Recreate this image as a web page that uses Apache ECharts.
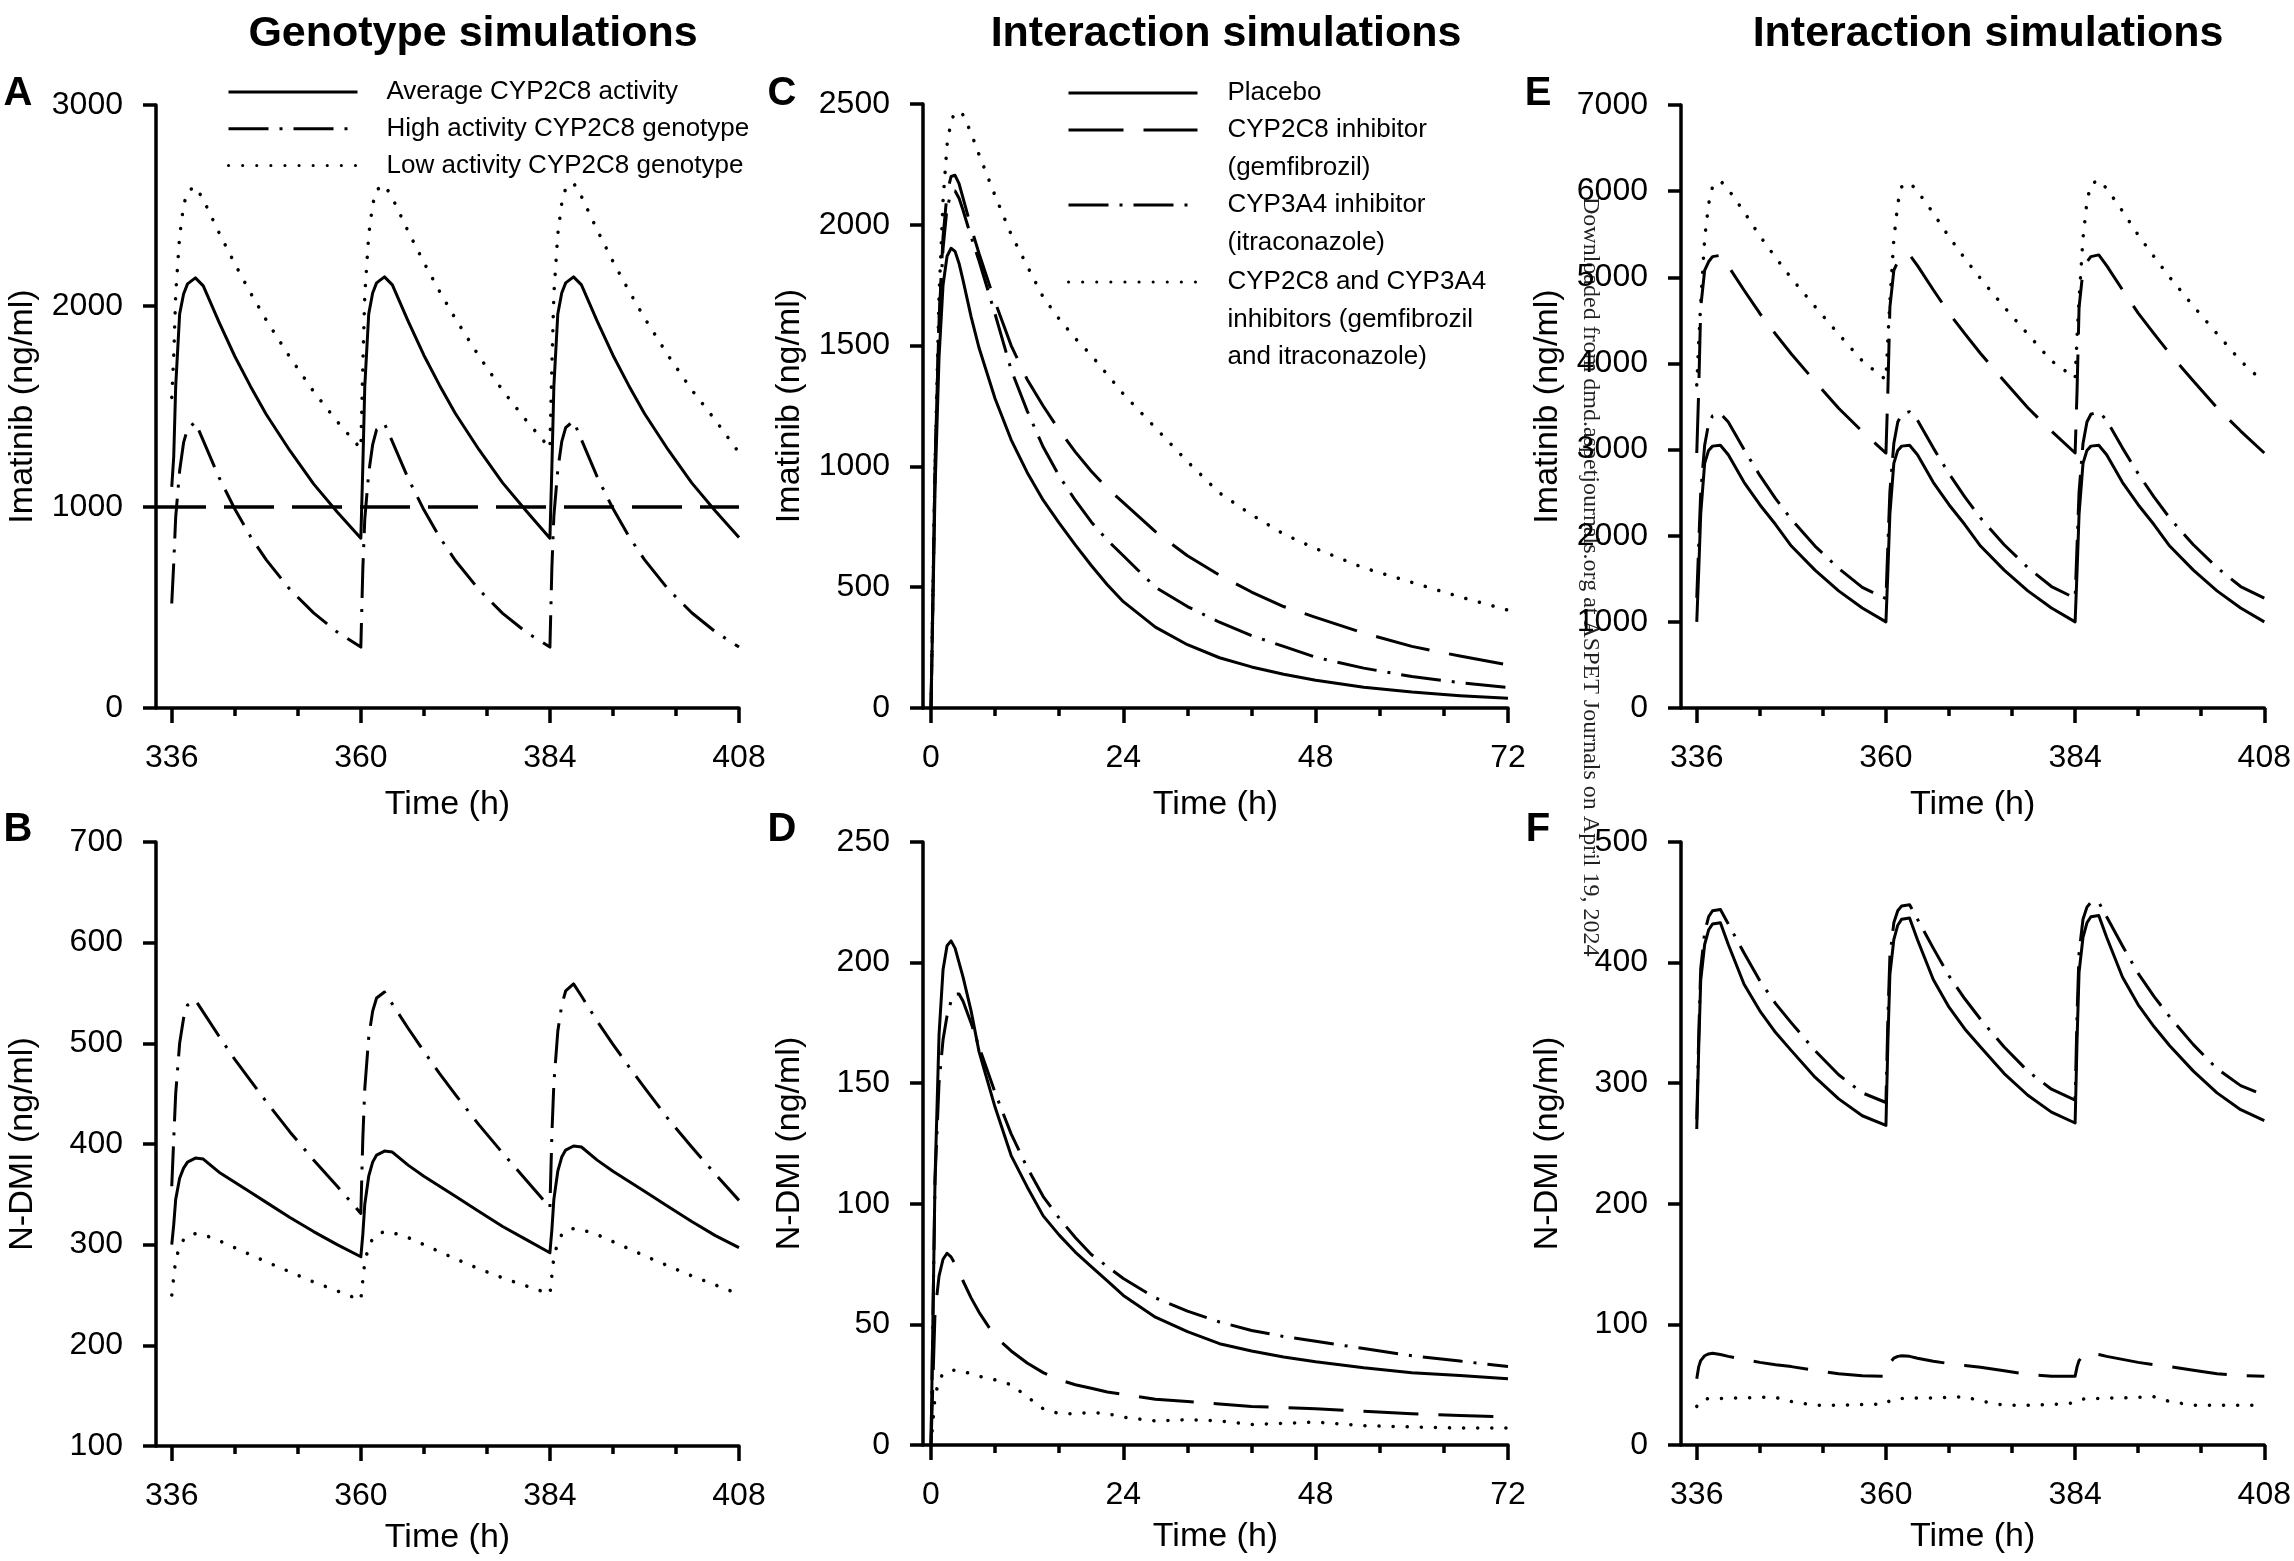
<!DOCTYPE html>
<html>
<head>
<meta charset="utf-8">
<title>Imatinib / N-DMI simulations</title>
<script src="https://cdn.jsdelivr.net/npm/echarts@6/dist/echarts.min.js"></script>
<style>
  html, body { margin: 0; padding: 0; background: #fff; }
  #chart { width: 2294px; height: 1561px; }
</style>
</head>
<body>
<div id="chart"></div>
<script>
// ---- time grids (h) ----
const TIME_MULTI = [
  336, 336.25, 336.5, 337, 337.5, 338, 339, 340, 342, 344, 346, 348, 351, 354, 357, 360,
  360.25, 360.5, 361, 361.5, 362, 363, 364, 366, 368, 370, 372, 375, 378, 381, 384,
  384.25, 384.5, 385, 385.5, 386, 387, 388, 390, 392, 394, 396, 399, 402, 405, 408
];
const TIME_SINGLE = [0, 0.5, 1, 1.5, 2, 2.5, 3, 3.5, 4, 5, 6, 8, 10, 12, 14, 16, 18, 20, 22, 24,
  28, 32, 36, 40, 44, 48, 54, 60, 66, 72];

// ---- tick labels ----
const TICKS_MULTI = [336, 360, 384, 408];
const MINOR_MULTI = [344, 352, 368, 376, 392, 400];
const TICKS_SINGLE = [0, 24, 48, 72];
const MINOR_SINGLE = [8, 16, 32, 40, 56, 64];

// ---- A: imatinib, genotypes ----
const A_AVG = [
  1100, 1250, 1600, 1960, 2060, 2110, 2140, 2100, 1920, 1750, 1600, 1460, 1280, 1115, 975, 845,
  1200, 1600, 1960, 2065, 2115, 2145, 2105, 1925, 1755, 1605, 1465, 1285, 1120, 980, 845,
  1200, 1600, 1960, 2065, 2115, 2145, 2105, 1925, 1755, 1605, 1465, 1285, 1120, 980, 848
];
const A_HIGH = [
  520, 720, 950, 1180, 1320, 1390, 1422, 1330, 1147, 990, 853, 737, 590, 473, 378, 303,
  690, 940, 1170, 1310, 1385, 1415, 1325, 1143, 986, 850, 734, 588, 471, 377, 303,
  700, 955, 1185, 1325, 1395, 1428, 1335, 1150, 992, 855, 738, 591, 474, 379, 303
];
const A_LOW = [
  1545, 1750, 2060, 2350, 2500, 2570, 2595, 2530, 2365, 2210, 2065, 1930, 1745, 1575, 1425, 1290,
  1700, 2055, 2355, 2505, 2578, 2603, 2538, 2372, 2217, 2072, 1937, 1750, 1580, 1430, 1292,
  1705, 2060, 2360, 2512, 2585, 2612, 2545, 2378, 2222, 2077, 1941, 1754, 1583, 1432, 1270
];
const TARGET_TROUGH = 1000;

// ---- B: N-DMI, genotypes ----
const B_AVG = [
  300, 320, 345, 366, 376, 382, 386, 385, 372, 362, 352, 342, 327, 313, 300, 288,
  310, 340, 368, 382, 389, 393, 392, 379, 368, 358, 348, 333, 318, 305, 292,
  315, 345, 373, 387, 394, 398, 397, 384, 373, 363, 353, 338, 323, 309, 297
];
const B_HIGH = [
  358, 405, 450, 500, 525, 538, 543, 531, 507, 484, 463, 442, 412, 384, 358, 331,
  405, 455, 506, 532, 545, 551, 539, 515, 492, 470, 449, 419, 391, 364, 337,
  410, 460, 512, 538, 552, 559, 547, 522, 499, 477, 456, 425, 397, 370, 344
];
const B_LOW = [
  250, 268, 285, 298, 305, 309, 311, 310, 304, 297, 290, 283, 273, 263, 254, 245,
  265, 283, 298, 306, 310, 313, 312, 307, 300, 293, 286, 276, 267, 259, 251,
  270, 288, 302, 310, 314, 316, 315, 310, 303, 296, 289, 279, 269, 260, 251
];

// ---- C: imatinib, single dose with inhibitors ----
const C_PLACEBO = [0, 900, 1450, 1750, 1870, 1903, 1890, 1840, 1770, 1620, 1490, 1280, 1110, 975, 860,
  765, 675, 590, 510, 440, 335, 262, 208, 170, 140, 115, 86, 66, 51, 40];
const C_2C8 = [0, 1000, 1600, 1950, 2130, 2200, 2205, 2170, 2110, 1990, 1880, 1680, 1500, 1360, 1250,
  1150, 1060, 980, 910, 850, 730, 630, 550, 480, 420, 375, 310, 255, 215, 178];
const C_3A4 = [0, 1000, 1600, 1900, 2070, 2130, 2140, 2110, 2060, 1950, 1850, 1630, 1400, 1230, 1080,
  960, 860, 770, 695, 630, 500, 420, 355, 300, 255, 210, 165, 130, 105, 85];
const C_BOTH = [0, 1000, 1700, 2100, 2330, 2430, 2465, 2470, 2455, 2380, 2290, 2120, 1960, 1830, 1700,
  1610, 1530, 1460, 1380, 1300, 1160, 1020, 890, 800, 720, 660, 580, 520, 460, 405];

// ---- D: N-DMI, single dose with inhibitors ----
const D_PLACEBO = [0, 110, 170, 197, 207, 209, 206, 200, 194, 180, 163, 140, 120, 107, 95,
  87, 80, 74, 68, 62, 53, 47, 42, 39, 36.5, 34.5, 32, 30, 28.8, 27.5];
const D_2C8 = [0, 55, 70, 77, 79.5, 78, 75, 72.5, 68, 61, 55, 45, 39, 34, 30,
  27, 25, 23.5, 22, 21, 19, 18, 17, 16, 15.5, 15, 14, 13, 12.2, 11.7];
const D_3A4 = [0, 110, 150, 168, 178, 184, 187, 187, 184, 175, 165, 146, 129, 115, 103,
  94, 86, 79, 74, 69, 61, 55.5, 51, 47.5, 45, 43, 40, 37, 34.8, 32.5];
const D_BOTH = [0, 20, 27, 29.5, 30.5, 31, 31, 31, 30.5, 29.5, 28.5, 27, 25, 20, 15,
  13, 13, 13.5, 13, 11.5, 10, 10.5, 10, 8.5, 9, 9.5, 8, 7.5, 7, 7];

// ---- E: imatinib, multiple dose with inhibitors ----
const E_PLACEBO = [
  1000, 1600, 2250, 2840, 2990, 3040, 3050, 2940, 2620, 2360, 2130, 1880, 1600, 1360, 1160, 1000,
  1600, 2250, 2840, 2990, 3040, 3050, 2940, 2620, 2360, 2130, 1880, 1600, 1360, 1160, 1000,
  1600, 2250, 2840, 2990, 3040, 3050, 2940, 2620, 2360, 2130, 1880, 1600, 1360, 1160, 1000
];
const E_2C8 = [
  2960, 3700, 4650, 5080, 5180, 5240, 5255, 5130, 4850, 4580, 4340, 4110, 3790, 3480, 3210, 2960,
  3700, 4650, 5080, 5180, 5240, 5260, 5135, 4855, 4585, 4345, 4115, 3795, 3485, 3215, 2960,
  3700, 4650, 5080, 5180, 5240, 5260, 5135, 4855, 4585, 4345, 4115, 3795, 3485, 3215, 2960
];
const E_3A4 = [
  1280, 1900, 2500, 3050, 3300, 3390, 3420, 3320, 3000, 2700, 2430, 2190, 1880, 1620, 1400, 1270,
  1900, 2510, 3070, 3320, 3410, 3440, 3340, 3020, 2720, 2450, 2205, 1895, 1630, 1410, 1275,
  1900, 2510, 3070, 3320, 3410, 3440, 3340, 3020, 2720, 2450, 2205, 1895, 1630, 1410, 1275
];
const E_BOTH = [
  3750, 4250, 4700, 5450, 5850, 6050, 6120, 6020, 5760, 5480, 5230, 4990, 4660, 4340, 4030, 3810,
  4300, 4720, 5440, 5860, 6050, 6100, 6000, 5745, 5470, 5220, 4985, 4655, 4340, 4030, 3830,
  4320, 4740, 5460, 5880, 6080, 6130, 6030, 5770, 5490, 5240, 5000, 4665, 4345, 4030, 3775
];

// ---- F: N-DMI, multiple dose with inhibitors ----
const F_PLACEBO = [
  262, 330, 385, 415, 427, 432, 433, 415, 382, 360, 342, 327, 305, 287, 273, 265,
  335, 390, 419, 431, 436, 437, 419, 386, 363, 345, 330, 308, 290, 276, 267,
  337, 392, 421, 433, 438, 439, 421, 388, 365, 347, 331, 310, 292, 278, 269
];
const F_3A4 = [
  270, 340, 395, 425, 438, 443, 444, 432, 408, 385, 366, 350, 327, 307, 292, 284,
  355, 405, 433, 443, 447, 448, 436, 412, 389, 370, 353, 330, 310, 295, 286,
  358, 408, 436, 446, 450, 450, 438, 414, 391, 372, 355, 332, 312, 298, 290
];
const F_2C8 = [
  55, 65, 70, 74, 75.5, 76, 75, 73.5, 71, 68.5, 66.5, 65, 62, 59, 57.5, 57,
  63, 68, 72, 73.5, 74, 73.5, 72, 69.5, 67.5, 66, 64.5, 61.5, 58.5, 57, 57,
  65, 70, 74, 75.5, 76, 75, 73.5, 71, 68.5, 66.5, 65, 62, 59, 57.5, 57
];
const F_BOTH = [
  32, 35, 37, 38, 38.5, 38.5, 38.5, 39, 39, 39.5, 39.5, 36, 33, 33, 33.5, 34,
  35, 37, 38, 38.5, 38.5, 38.5, 39, 39, 39.5, 40, 36.5, 33, 33, 33.5, 35,
  35, 37, 38, 38.5, 38.5, 38.5, 39, 39, 39.5, 40, 36, 33, 33, 33, 33
];

// ---- legend texts ----
const LEGEND_A = ['Average CYP2C8 activity', 'High activity CYP2C8 genotype', 'Low activity CYP2C8 genotype'];
const LEGEND_C = [
  ['Placebo'],
  ['CYP2C8 inhibitor', '(gemfibrozil)'],
  ['CYP3A4 inhibitor', '(itraconazole)'],
  ['CYP2C8 and CYP3A4', 'inhibitors (gemfibrozil', 'and itraconazole)']
];
const WATERMARK = 'Downloaded from dmd.aspetjournals.org at ASPET Journals on April 19, 2024';

// ---- styles ----
const FONT = '"Liberation Sans", Arial, sans-serif';
const INK = '#000';
const SOLID = 'solid';
const DASHED = [55, 20];
const DASH_DOT = [40, 11, 3, 11];
const DOTTED = [0.1, 14];

const chart = echarts.init(document.getElementById('chart'));

// panel layout: grid box, x range, y range
const PANELS = [
  { grid: { left: 156, top: 105, width: 583, height: 603 }, x: [334, 408], ticks: TICKS_MULTI, minor: MINOR_MULTI, y: [0, 3000, 1000], yName: 'Imatinib (ng/ml)', nameGap: 80 },
  { grid: { left: 156, top: 842, width: 583, height: 604 }, x: [334, 408], ticks: TICKS_MULTI, minor: MINOR_MULTI, y: [100, 700, 100], yName: 'N-DMI (ng/ml)', nameGap: 75 },
  { grid: { left: 923, top: 104, width: 585, height: 604 }, x: [-1, 72], ticks: TICKS_SINGLE, minor: MINOR_SINGLE, y: [0, 2500, 500], yName: 'Imatinib (ng/ml)', nameGap: 80 },
  { grid: { left: 923, top: 842, width: 585, height: 603 }, x: [-1, 72], ticks: TICKS_SINGLE, minor: MINOR_SINGLE, y: [0, 250, 50], yName: 'N-DMI (ng/ml)', nameGap: 75 },
  { grid: { left: 1681, top: 105, width: 584, height: 603 }, x: [334, 408], ticks: TICKS_MULTI, minor: MINOR_MULTI, y: [0, 7000, 1000], yName: 'Imatinib (ng/ml)', nameGap: 80 },
  { grid: { left: 1681, top: 842, width: 584, height: 603 }, x: [334, 408], ticks: TICKS_MULTI, minor: MINOR_MULTI, y: [0, 500, 100], yName: 'N-DMI (ng/ml)', nameGap: 75 }
];

const axisLineStyle = { color: INK, width: 3.5 };

const xAxes = [];
PANELS.forEach(function (p, i) {
  xAxes.push({
    type: 'value', gridIndex: i, position: 'bottom',
    min: p.x[0], max: p.x[1],
    name: 'Time (h)', nameLocation: 'middle', nameGap: p.nameGap,
    nameTextStyle: { fontFamily: FONT, fontSize: 34, color: INK },
    axisLine: { show: true, onZero: false, lineStyle: axisLineStyle },
    axisTick: { show: true, length: 15, customValues: p.ticks, lineStyle: axisLineStyle },
    axisLabel: { customValues: p.ticks, margin: 34, fontFamily: FONT, fontSize: 32, color: INK,
      formatter: function (v) { return String(v); } },
    splitLine: { show: false }
  });
  // minor ticks
  xAxes.push({
    type: 'value', gridIndex: i, position: 'bottom',
    min: p.x[0], max: p.x[1],
    axisLine: { show: false, onZero: false },
    axisTick: { show: true, length: 8, customValues: p.minor, lineStyle: axisLineStyle },
    axisLabel: { show: false },
    splitLine: { show: false }
  });
});

const yAxes = PANELS.map(function (p, i) {
  return {
    type: 'value', gridIndex: i,
    min: p.y[0], max: p.y[1], interval: p.y[2],
    name: p.yName, nameLocation: 'middle', nameGap: 116,
    nameTextStyle: { fontFamily: FONT, fontSize: 34, color: INK },
    axisLine: { show: true, onZero: false, lineStyle: axisLineStyle },
    axisTick: { show: true, length: 13, lineStyle: axisLineStyle },
    axisLabel: { margin: 33, fontFamily: FONT, fontSize: 32, color: INK,
      formatter: function (v) { return String(v); } },
    splitLine: { show: false }
  };
});

function pairs(xs, ys) {
  return xs.map(function (x, i) { return [x, ys[i]]; });
}

function curve(panel, name, xs, ys, dash) {
  return {
    type: 'line', name: name,
    xAxisIndex: panel * 2, yAxisIndex: panel,
    data: pairs(xs, ys),
    symbol: 'none', smooth: false,
    color: INK,
    lineStyle: { color: INK, width: dash === DOTTED ? 3.5 : 3, type: dash,
      cap: dash === DOTTED ? 'round' : 'butt', join: 'round' },
    animation: false, silent: true
  };
}

const avgA = curve(0, LEGEND_A[0], TIME_MULTI, A_AVG, SOLID);
avgA.markLine = {
  silent: true, symbol: 'none', animation: false,
  label: { show: false },
  lineStyle: { color: INK, width: 3.5, type: [50, 18] },
  data: [{ yAxis: TARGET_TROUGH }]
};

const series = [
  avgA,
  curve(0, LEGEND_A[1], TIME_MULTI, A_HIGH, DASH_DOT),
  curve(0, LEGEND_A[2], TIME_MULTI, A_LOW, DOTTED),

  curve(1, 'N-DMI average', TIME_MULTI, B_AVG, SOLID),
  curve(1, 'N-DMI high', TIME_MULTI, B_HIGH, DASH_DOT),
  curve(1, 'N-DMI low', TIME_MULTI, B_LOW, DOTTED),

  curve(2, LEGEND_C[0].join(' '), TIME_SINGLE, C_PLACEBO, SOLID),
  curve(2, LEGEND_C[1].join(' '), TIME_SINGLE, C_2C8, DASHED),
  curve(2, LEGEND_C[2].join(' '), TIME_SINGLE, C_3A4, DASH_DOT),
  curve(2, LEGEND_C[3].join(' '), TIME_SINGLE, C_BOTH, DOTTED),

  curve(3, 'D placebo', TIME_SINGLE, D_PLACEBO, SOLID),
  curve(3, 'D CYP2C8', TIME_SINGLE, D_2C8, DASHED),
  curve(3, 'D CYP3A4', TIME_SINGLE, D_3A4, DASH_DOT),
  curve(3, 'D both', TIME_SINGLE, D_BOTH, DOTTED),

  curve(4, 'E placebo', TIME_MULTI, E_PLACEBO, SOLID),
  curve(4, 'E CYP2C8', TIME_MULTI, E_2C8, DASHED),
  curve(4, 'E CYP3A4', TIME_MULTI, E_3A4, DASH_DOT),
  curve(4, 'E both', TIME_MULTI, E_BOTH, DOTTED),

  curve(5, 'F placebo', TIME_MULTI, F_PLACEBO, SOLID),
  curve(5, 'F CYP2C8', TIME_MULTI, F_2C8, DASHED),
  curve(5, 'F CYP3A4', TIME_MULTI, F_3A4, DASH_DOT),
  curve(5, 'F both', TIME_MULTI, F_BOTH, DOTTED)
];

// legends: the text is centred on the icon, so blank lines are put in front
// of multi-line entries to bring their first line level with the icon
function legendBase(left, top, lineH, gapPad) {
  return {
    left: left, top: top, orient: 'vertical', padding: 0,
    itemWidth: 129, itemHeight: 14, itemGap: 0,
    selectedMode: false,
    itemStyle: { opacity: 0, borderWidth: 0 },
    lineStyle: { width: 3 },
    textStyle: { fontFamily: FONT, fontSize: 26, color: INK, lineHeight: lineH,
      padding: [0, 0, 0, gapPad] }
  };
}

const legends = [];
const legA = legendBase(227, 92 - 36.7 / 2, 36.7, 24);
legA.data = LEGEND_A.slice();
legends.push(legA);

const C_LINE_H = 37.4;
const C_FIRST = [93, 130, 205, 282];
LEGEND_C.forEach(function (lines, i) {
  const n = lines.length;
  const leg = legendBase(1067, C_FIRST[i] - (n - 0.5) * C_LINE_H, C_LINE_H, 25);
  leg.data = [lines.join(' ')];
  const text = new Array(n).join('\n') + lines.join('\n');
  leg.formatter = function () { return text; };
  legends.push(leg);
});

function heading(text, x, y) {
  return { text: text, left: x, top: y, textAlign: 'center', textVerticalAlign: 'middle', padding: 0,
    textStyle: { fontFamily: FONT, fontSize: 43, fontWeight: 'bold', color: INK } };
}
function letter(text, x, y) {
  return { text: text, left: x, top: y, textAlign: 'center', textVerticalAlign: 'middle', padding: 0,
    textStyle: { fontFamily: FONT, fontSize: 40, fontWeight: 'bold', color: INK } };
}

const option = {
  backgroundColor: '#fff',
  animation: false,
  title: [
    heading('Genotype simulations', 473, 34),
    heading('Interaction simulations', 1226, 34),
    heading('Interaction simulations', 1988, 34),
    letter('A', 18, 94), letter('B', 18, 830),
    letter('C', 782, 94), letter('D', 782, 830),
    letter('E', 1538, 94), letter('F', 1538, 830)
  ],
  grid: PANELS.map(function (p) { return p.grid; }),
  xAxis: xAxes,
  yAxis: yAxes,
  legend: legends,
  series: series,
  graphic: [{
    type: 'text', x: 1590, y: 197, rotation: -Math.PI / 2, silent: true,
    style: { text: WATERMARK, fontFamily: '"Liberation Serif", "Times New Roman", serif', fontSize: 24,
      fill: '#222', align: 'left', verticalAlign: 'middle' }
  }]
};

chart.setOption(option);

window.addEventListener('resize', function () {
  chart.resize();
});
</script>
</body>
</html>
